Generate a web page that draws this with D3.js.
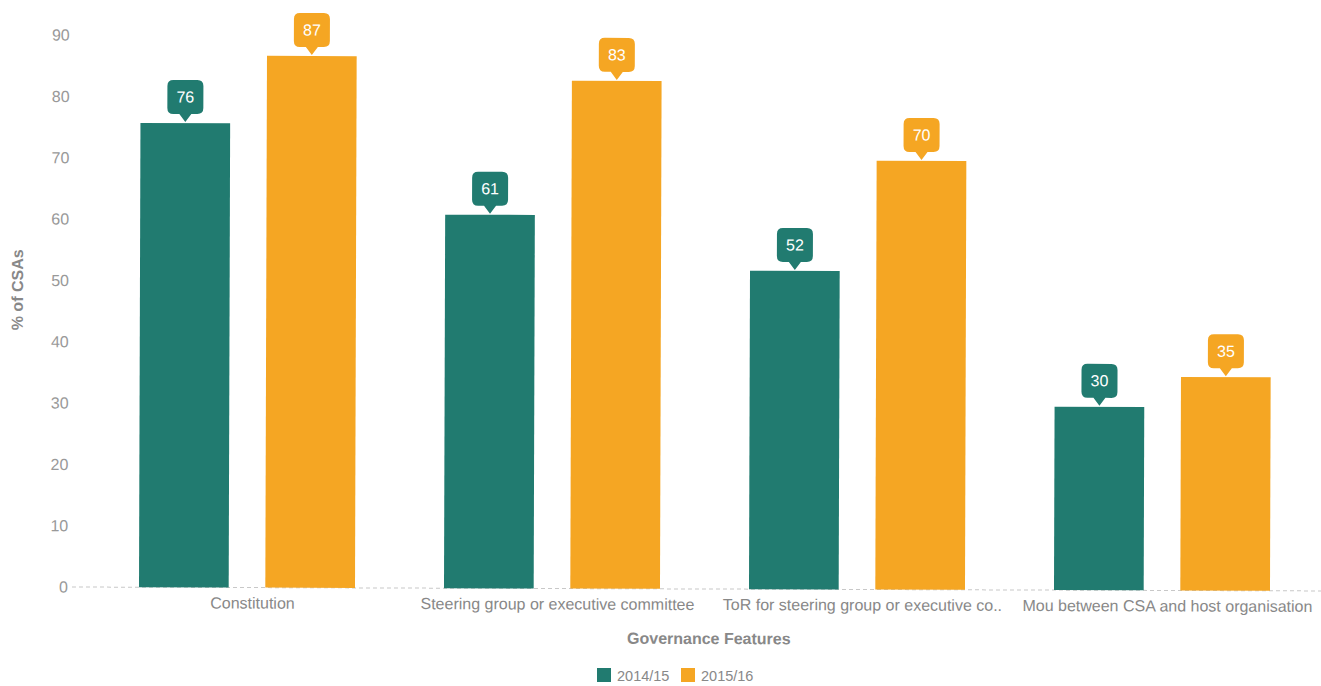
<!DOCTYPE html>
<html><head><meta charset="utf-8">
<script src="https://cdn.jsdelivr.net/npm/d3@7"></script>
<style>body{margin:0;background:#fff}svg{display:block;font-family:"Liberation Sans",Arial,sans-serif}</style>
</head><body><svg id="c" width="1321" height="686"></svg>
<script>
const categories = ["Constitution","Steering group or executive committee","ToR for steering group or executive co..","Mou between CSA and host organisation"];
const seriesNames = ["2014/15","2015/16"];
const values2014 = [75.7, 60.9, 51.9, 29.9];
const values2015 = [86.7, 82.8, 69.9, 34.8];
const yTicks = [0,10,20,30,40,50,60,70,80,90];
const colors = ["#217b70","#f5a623"];

const svg = d3.select("#c");
const g = svg.append("g").attr("transform","rotate(0.18,70,587)");
const x0 = d3.scaleBand().domain(categories).range([95,1315]).paddingInner(0).paddingOuter(0);
const x1 = d3.scaleBand().domain(seriesNames).range([44,260]).paddingInner(0.29);
const y = d3.scaleLinear().domain([0,90]).range([587,35]);

// y tick labels
const yAxis = d3.axisLeft(y).tickValues(yTicks).tickSize(0).tickPadding(0);
const ya = g.append("g").attr("transform","translate(68,0)").call(yAxis);
ya.select(".domain").remove();
ya.selectAll("text").attr("fill","#999").style("font-size","16px");

// baseline
g.append("line").attr("x1",72).attr("x2",1321).attr("y1",y(0)).attr("y2",y(0))
 .attr("stroke","#c8c8c8").attr("stroke-dasharray","4,3");

const data = categories.map((c,i)=>({c, vals:[values2014[i],values2015[i]]}));
const grp = g.selectAll(".grp").data(data).join("g").attr("transform",d=>`translate(${x0(d.c)},0)`);
grp.selectAll("rect").data(d=>d.vals.map((v,j)=>({v,j}))).join("rect")
  .attr("x",d=>x1(seriesNames[d.j])).attr("width",x1.bandwidth())
  .attr("y",d=>y(d.v)).attr("height",d=>y(0)-y(d.v)).attr("fill",d=>colors[d.j]);

// callouts
const cw=36, ch=34, tri=8, r=6;
grp.selectAll(".call").data(d=>d.vals.map((v,j)=>({v,j}))).join("g")
  .attr("transform",d=>`translate(${x1(seriesNames[d.j])+x1.bandwidth()/2},${y(d.v)-1})`)
  .each(function(d){
    const s=d3.select(this);
    const top=-tri-ch, l=-cw/2, rr=cw/2, b=-tri;
    const p=`M${l+r},${top} H${rr-r} Q${rr},${top} ${rr},${top+r} V${b-r} Q${rr},${b} ${rr-r},${b} H6 L0,0 L-6,${b} H${l+r} Q${l},${b} ${l},${b-r} V${top+r} Q${l},${top} ${l+r},${top} Z`;
    s.append("path").attr("d",p).attr("fill",colors[d.j]);
    s.append("text").attr("x",0).attr("y",b-ch/2+5.5).attr("text-anchor","middle")
     .attr("fill","#fff").style("font-size","16px").text(Math.round(d.v));
  });

// x category labels
const xAxis = d3.axisBottom(x0).tickSize(0).tickPadding(0);
const xa = g.append("g").attr("transform","translate(5,608)").call(xAxis);
xa.select(".domain").remove();
xa.selectAll("text").attr("fill","#888").attr("dy","0").style("font-size","16px");

// axis titles
g.append("text").attr("x",709).attr("y",642).attr("text-anchor","middle")
 .attr("fill","#888").style("font-size","16px").style("font-weight","bold").text("Governance Features");
g.append("text").attr("transform","translate(22,290) rotate(-90)").attr("text-anchor","middle")
 .attr("fill","#888").style("font-size","16px").style("font-weight","bold").text("% of CSAs");

// legend
const leg = svg.append("g").attr("transform","translate(597,668)");
const li = leg.selectAll("g").data(seriesNames).join("g").attr("transform",(d,i)=>`translate(${i*84},0)`);
li.append("rect").attr("width",14).attr("height",14).attr("fill",(d,i)=>colors[i]);
li.append("text").attr("x",20).attr("y",12.5).attr("fill","#888").style("font-size","14.5px").text(d=>d);
</script></body></html>
